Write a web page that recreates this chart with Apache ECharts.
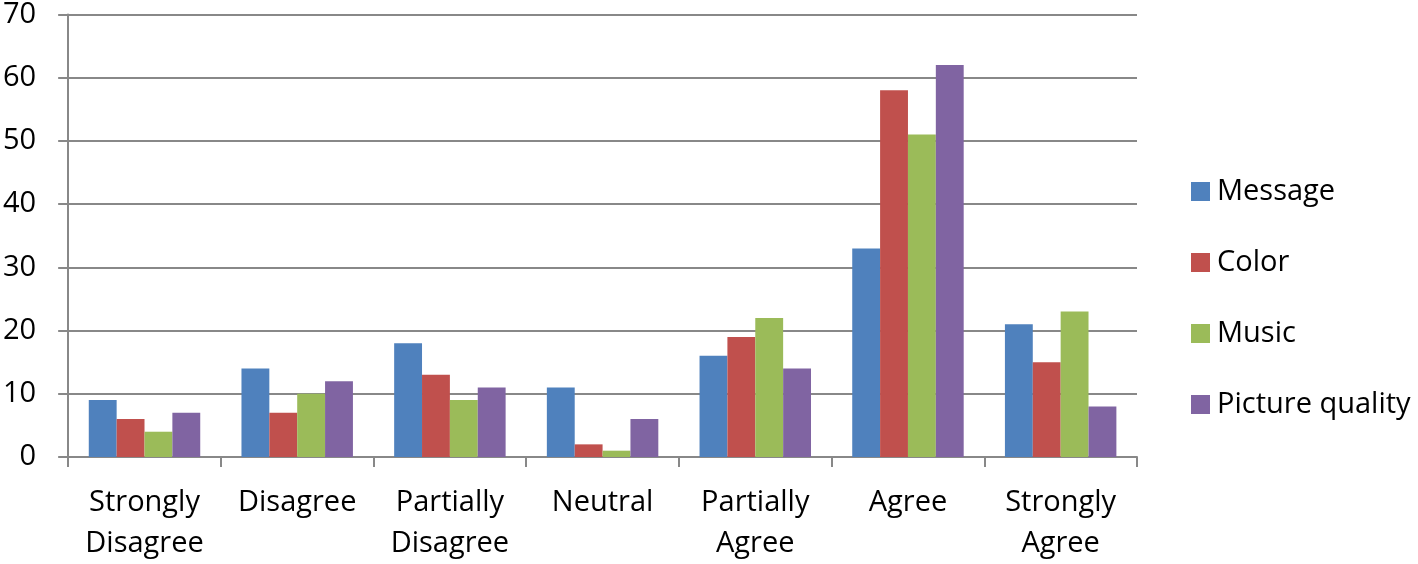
<!DOCTYPE html>
<html><head><meta charset="utf-8">
<script src="https://cdn.jsdelivr.net/npm/echarts@6/dist/echarts.min.js"></script>
<style>html,body{margin:0;padding:0;background:#fff}#c{width:1418px;height:564px}</style>
</head><body><div id="c"></div>
<script>
const categories = ['Strongly\nDisagree','Disagree','Partially\nDisagree','Neutral','Partially\nAgree','Agree','Strongly\nAgree'];
const seriesNames = ['Message','Color','Music','Picture quality'];
const message = [9,14,18,11,16,33,21];
const color = [6,7,13,2,19,58,15];
const music = [4,10,9,1,22,51,23];
const pictureQuality = [7,12,11,6,14,62,8];
const colors = ['#4F81BD','#C0504D','#9BBB59','#8064A2'];
const values = [message,color,music,pictureQuality];
const FONT = 'Open Sans';
const chart = echarts.init(document.getElementById('c'));
chart.setOption({
  animation:false,
  textStyle:{fontFamily:FONT},
  grid:{left:65,top:11,right:281,bottom:102,containLabel:false},
  legend:{orient:'vertical',left:1191,top:177,itemWidth:19,itemHeight:19,itemGap:42,
    icon:'rect',padding:0,
    textStyle:{fontFamily:FONT,fontSize:29,color:'#000',lineHeight:20,padding:[0,0,0,2]},
    data:seriesNames},
  xAxis:{type:'category',data:categories,
    axisLine:{lineStyle:{color:'#888',width:2}},
    axisTick:{show:true,length:10,alignWithLabel:false,lineStyle:{color:'#888',width:2}},
    axisLabel:{fontFamily:FONT,fontSize:29,color:'#000',lineHeight:41,margin:25,interval:0}},
  yAxis:{type:'value',min:0,max:70,interval:10,
    axisLine:{show:true,lineStyle:{color:'#888',width:2}},
    axisTick:{show:true,length:10,lineStyle:{color:'#888',width:2}},
    splitLine:{lineStyle:{color:'#888',width:2}},
    axisLabel:{fontFamily:FONT,fontSize:29,color:'#000',margin:32}},
  series: seriesNames.map((n,i)=>({name:n,type:'bar',data:values[i],barGap:'0%',barCategoryGap:'27%',
    itemStyle:{color:colors[i]}}))
});
</script></body></html>
